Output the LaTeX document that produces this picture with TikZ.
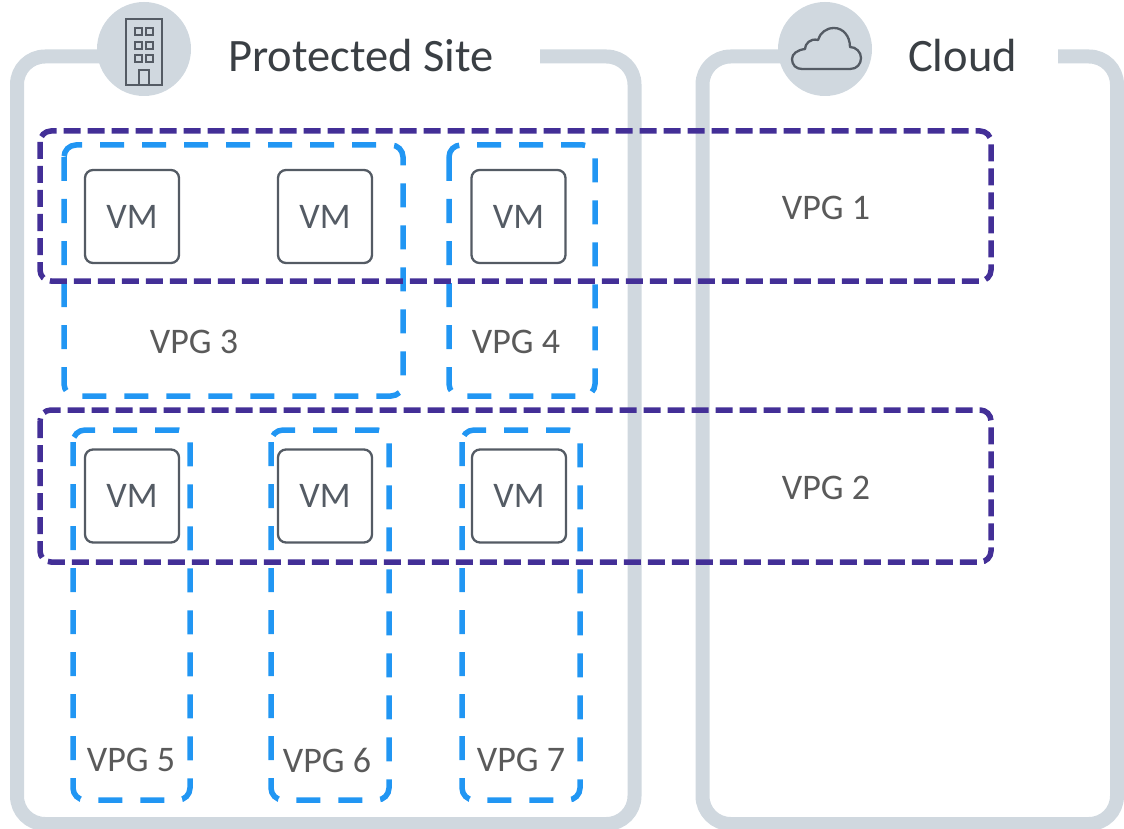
\documentclass[tikz,border=0pt]{standalone}
\usepackage{fontspec}
\setmainfont{Carlito}
\definecolor{frame}{HTML}{D0D8DF}
\definecolor{vpgpurple}{HTML}{432F97}
\definecolor{vpgblue}{HTML}{2196F3}
\definecolor{vmgray}{HTML}{545B64}
\definecolor{titlegray}{HTML}{3A3F44}
\definecolor{labelgray}{HTML}{5A5A5A}
\tikzset{
  framebox/.style={draw=frame, line width=14pt, rounded corners=28pt},
  badge/.style={circle, fill=frame, minimum size=94pt, inner sep=0pt},
  icon/.style={draw=vmgray, line width=2.3pt},
  purplebox/.style={draw=vpgpurple, line width=5.5pt, dash pattern=on 17pt off 7pt, rounded corners=11pt},
  bluebox/.style={draw=vpgblue, line width=5.5pt, dash pattern=on 24pt off 18pt, rounded corners=12pt},
  vmbox/.style={draw=vmgray, line width=2.3pt, rounded corners=8pt, fill=white,
    minimum width=94pt, minimum height=93pt, inner sep=0pt, text=vmgray,
    font=\fontsize{36}{40}\selectfont},
  vpglabel/.style={inner sep=0pt, text=labelgray, font=\fontsize{36}{40}\selectfont},
  title/.style={inner sep=0pt, anchor=base west, text=titlegray, font=\fontsize{46.5}{50}\selectfont}
}
\begin{document}
\begin{tikzpicture}[x=1pt,y=-1pt]
\useasboundingbox (0,0) rectangle (1124,829);
% site frames
\draw[framebox] (540,56.5) -- (634.5,56.5) -- (634.5,824) -- (17,824) -- (17,56.5) -- (144,56.5);
\draw[framebox] (1058,56.5) -- (1117,56.5) -- (1117,824) -- (702.5,824) -- (702.5,56.5) -- (825,56.5);
\node[badge] (sitebadge) at (144,49) {};
\node[badge] (cloudbadge) at (825,49) {};
% building icon
\draw[icon] (125.7,19) rectangle (161.7,85);
\foreach \yy in {28,42,55}{
  \draw[icon, line width=2pt] (135,\yy) rectangle (142.3,\yy+7.3);
  \draw[icon, line width=2pt] (145.7,\yy) rectangle (153,\yy+7.3);
}
\draw[icon] (139.3,85) -- (139.3,70) -- (149.3,70) -- (149.3,85);
% cloud icon
\draw[icon, line join=round] (802,69) -- (850,69)
  .. controls (857,69) and (861,64) .. (861,58)
  .. controls (861,52) and (856,47) .. (850,47)
  .. controls (850,36) and (843,28) .. (834,28)
  .. controls (826,28) and (820,33) .. (818,40)
  .. controls (810,38) and (805,44) .. (805,49)
  .. controls (797,50) and (792,54) .. (792,59)
  .. controls (792,65) and (796,69) .. (802,69) -- cycle;
% titles
\node[title] (sitetitle) at (228,71.7) {Protected Site};
\node[title] (cloudtitle) at (908,71.7) {Cloud};
% blue VPG boxes
\draw[bluebox] (64,145) rectangle (403,396);
\draw[bluebox] (449,145) rectangle (595,396);
\draw[bluebox] (73,430) rectangle (190,800);
\draw[bluebox] (271,430) rectangle (389,800);
\draw[bluebox] (462,430) rectangle (580,800);
% purple VPG boxes
\draw[purplebox] (40,131) rectangle (991,281);
\draw[purplebox] (40,410) rectangle (991,562);
% VMs
\node[vmbox] (vm1) at (132,216.5) {VM};
\node[vmbox] (vm2) at (325,216.5) {VM};
\node[vmbox] (vm3) at (518.5,216.5) {VM};
\node[vmbox] (vm4) at (132,496) {VM};
\node[vmbox] (vm5) at (325,496) {VM};
\node[vmbox] (vm6) at (519,496) {VM};
% labels
\node[vpglabel] (l1) at (826,208) {VPG 1};
\node[vpglabel] (l2) at (826,488) {VPG 2};
\node[vpglabel] (l3) at (194,342) {VPG 3};
\node[vpglabel] (l4) at (516,342) {VPG 4};
\node[vpglabel] (l5) at (131,760) {VPG 5};
\node[vpglabel] (l6) at (327,760) {VPG 6};
\node[vpglabel] (l7) at (521,760) {VPG 7};
\end{tikzpicture}
\end{document}
